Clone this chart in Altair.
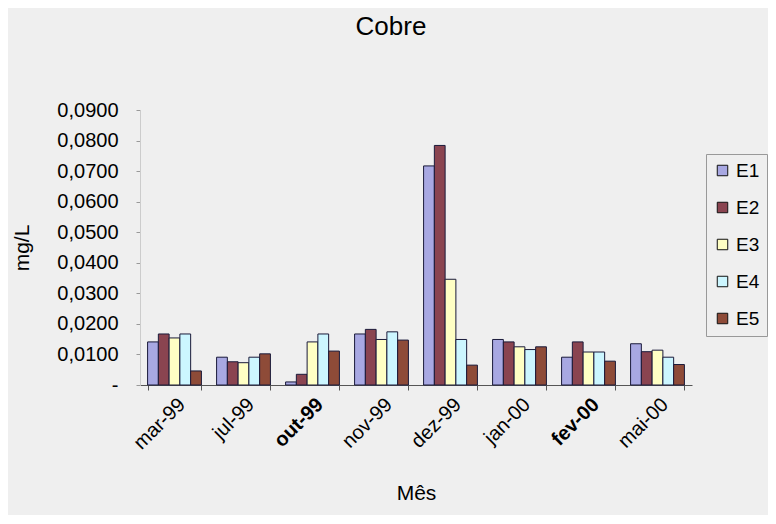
import altair as alt
import pandas as pd

months = ["mar-99", "jul-99", "out-99", "nov-99", "dez-99", "jan-00", "fev-00", "mai-00"]
series = ["E1", "E2", "E3", "E4", "E5"]
e1 = [0.0141, 0.0091, 0.0010, 0.0167, 0.0717, 0.0149, 0.0091, 0.0135]
e2 = [0.0167, 0.0076, 0.0035, 0.0182, 0.0784, 0.0141, 0.0141, 0.0109]
e3 = [0.0154, 0.0073, 0.0141, 0.0149, 0.0346, 0.0125, 0.0108, 0.0114]
e4 = [0.0167, 0.0091, 0.0167, 0.0174, 0.0149, 0.0116, 0.0108, 0.0091]
e5 = [0.0046, 0.0102, 0.0111, 0.0147, 0.0065, 0.0125, 0.0078, 0.0067]
colors = ["#a8a8e2", "#8a4450", "#ffffc4", "#ccf6ff", "#8e4b38"]
y_ticks = [0.0, 0.01, 0.02, 0.03, 0.04, 0.05, 0.06, 0.07, 0.08, 0.09]

rows = []
for name, vals in zip(series, [e1, e2, e3, e4, e5]):
    for m, v in zip(months, vals):
        rows.append({"Mês": m, "Série": name, "valor": v})
df = pd.DataFrame(rows)

FONT = "Liberation Sans"

chart = alt.Chart(df).mark_bar(stroke="#1a1a3a", strokeWidth=1).encode(
    x=alt.X("Mês:N", sort=months,
            scale=alt.Scale(paddingInner=0.22, paddingOuter=0.11),
            axis=alt.Axis(title="Mês", labelAngle=-45, labelFontSize=20, titleFontSize=21,
                          labelFont=FONT, titleFont=FONT, labelColor="#000", titleColor="#000",
                          titleFontWeight="normal", domainColor="#555", tickColor="#555",
                          tickBand="extent", tickSize=5, labelPadding=4, titlePadding=30,
                          labelFontWeight=alt.expr("datum.value == 'out-99' || datum.value == 'fev-00' ? 'bold' : 'normal'"))),
    xOffset=alt.XOffset("Série:N", sort=series),
    y=alt.Y("valor:Q",
            scale=alt.Scale(domain=[0, 0.09], nice=False),
            axis=alt.Axis(title="mg/L", values=y_ticks, labelFontSize=20, titleFontSize=21,
                          labelFont=FONT, titleFont=FONT, labelColor="#000", titleColor="#000",
                          titleFontWeight="normal", grid=False, domainColor="#cccccc",
                          tickColor="#999", tickSize=4, labelPadding=18, titlePadding=24,
                          labelOverlap=False,
                          labelExpr="datum.value == 0 ? '-' : replace(format(datum.value, '.4f'), '.', ',')")),
    color=alt.Color("Série:N", sort=series,
                    scale=alt.Scale(domain=series, range=colors),
                    legend=alt.Legend(title=None, orient="none", legendX=566, legendY=44,
                                      labelFontSize=19, labelFont=FONT, labelColor="#000",
                                      symbolType="square", symbolSize=110, symbolStrokeColor="#111",
                                      symbolStrokeWidth=1, rowPadding=17, strokeColor="#999",
                                      padding=7, labelOffset=4)),
).properties(
    width=552, height=275,
    title=alt.Title("Cobre", fontSize=26, font=FONT, fontWeight="normal", color="#000",
                    anchor="middle", dx=-25, offset=60),
    autosize=alt.AutoSizeParams(type="none"),
    padding={"left": 132, "top": 102, "right": 76, "bottom": 130},
    background="#efefef",
).configure_view(stroke=None)

chart.save("out.html", embed_options={"renderer": "svg", "actions": False})
